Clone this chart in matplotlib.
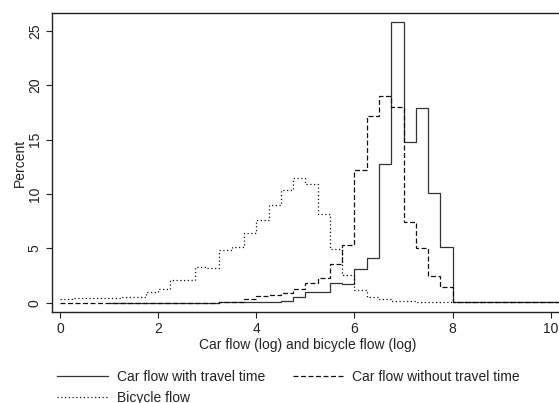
import numpy as np
import matplotlib.pyplot as plt
from matplotlib.lines import Line2D

plt.rcParams['font.family'] = ['Liberation Sans', 'DejaVu Sans']

bin_width = 0.25

# bicycle flow (dotted), bins start at 0
bike_start = 0.0
bike = [0.3, 0.4, 0.4, 0.4, 0.4, 0.5, 0.5, 1.0, 1.25, 2.1, 2.1, 3.3, 3.2, 4.8,
        5.15, 6.4, 7.6, 9.0, 10.4, 11.5, 10.9, 8.2, 4.9, 2.55, 1.2, 0.55, 0.35,
        0.2, 0.12, 0.08, 0.06, 0.05, 0.05, 0.05, 0.05, 0.05, 0.05, 0.05, 0.05,
        0.05, 0.05, 0.05]

# car flow with travel time (solid), bins start at 1
car_tt_start = 1.0
car_tt = [0, 0, 0, 0, 0, 0, 0, 0, 0, 0.05, 0.05, 0.05, 0.05, 0.05, 0.15, 0.5,
          0.95, 0.95, 1.85, 1.7, 3.1, 4.1, 12.8, 25.85, 14.8, 17.9, 10.05, 5.15,
          0.05, 0.05, 0.05, 0.05, 0.05, 0.05, 0.05, 0.05, 0.05, 0.05]

# car flow without travel time (dashed), bins start at 0
car_nott_start = 0.0
car_nott = [0, 0, 0, 0, 0, 0, 0, 0, 0, 0, 0, 0, 0, 0.1, 0.1, 0.3, 0.65, 0.7,
            0.85, 1.3, 1.85, 2.25, 3.55, 5.3, 12.2, 17.2, 19.05, 18.0, 7.45, 5.0,
            2.45, 1.4, 0.05, 0.05, 0.05, 0.05, 0.05, 0.05, 0.05, 0.05, 0.05, 0.05]

labels = ['Car flow with travel time', 'Bicycle flow', 'Car flow without travel time']
xticks = [0, 2, 4, 6, 8, 10]
yticks = [0, 5, 10, 15, 20, 25]


def edges(start, vals):
    return start + bin_width * np.arange(len(vals) + 1)


fig = plt.figure(figsize=(5.59, 4.03), dpi=100)
ax = fig.add_axes([52.3 / 559, 91.3 / 403, (563 - 52.3) / 559, (311.7 - 13.3) / 403])

ax.stairs(car_tt, edges(car_tt_start, car_tt), baseline=None,
          color='#333333', lw=0.9, ls='-')
ax.stairs(car_nott, edges(car_nott_start, car_nott), baseline=None,
          color='#111111', lw=0.9, ls=(0, (4, 2)))
ax.stairs(bike, edges(bike_start, bike), baseline=None,
          color='#111111', lw=0.9, ls=(0, (1, 2)))

ax.set_xlim(-0.157, 10.25)
ax.set_ylim(-0.83, 26.62)
ax.set_xticks(xticks)
ax.set_yticks(yticks)
ax.tick_params(direction='out', length=4, width=0.8, labelsize=10, colors='#222222')
for lab in ax.get_yticklabels():
    lab.set_rotation(90)
    lab.set_va('center')
for s in ax.spines.values():
    s.set_linewidth(1.0)
    s.set_color('#222222')
ax.spines['right'].set_visible(False)

ax.set_xlabel('Car flow (log) and bicycle flow (log)', fontsize=10, color='#222222', labelpad=1)
ax.set_ylabel('Percent', fontsize=10, color='#222222', labelpad=1)

# legend rows: solid + dashed, then dotted
handles = [Line2D([], [], color='#333333', lw=0.9, ls='-'),
           Line2D([], [], color='#111111', lw=0.9, ls=(0, (1, 2))),
           Line2D([], [], color='#111111', lw=0.9, ls=(0, (4, 2)))]
fig.legend(handles, labels, ncol=2, frameon=False, fontsize=10,
           loc='upper left', bbox_to_anchor=(50 / 559, 1 - 363 / 403),
           handlelength=3.7, handletextpad=0.6, columnspacing=2.0,
           labelspacing=0.5, borderpad=0, labelcolor='#222222')

fig.savefig('out.png', dpi=100)
